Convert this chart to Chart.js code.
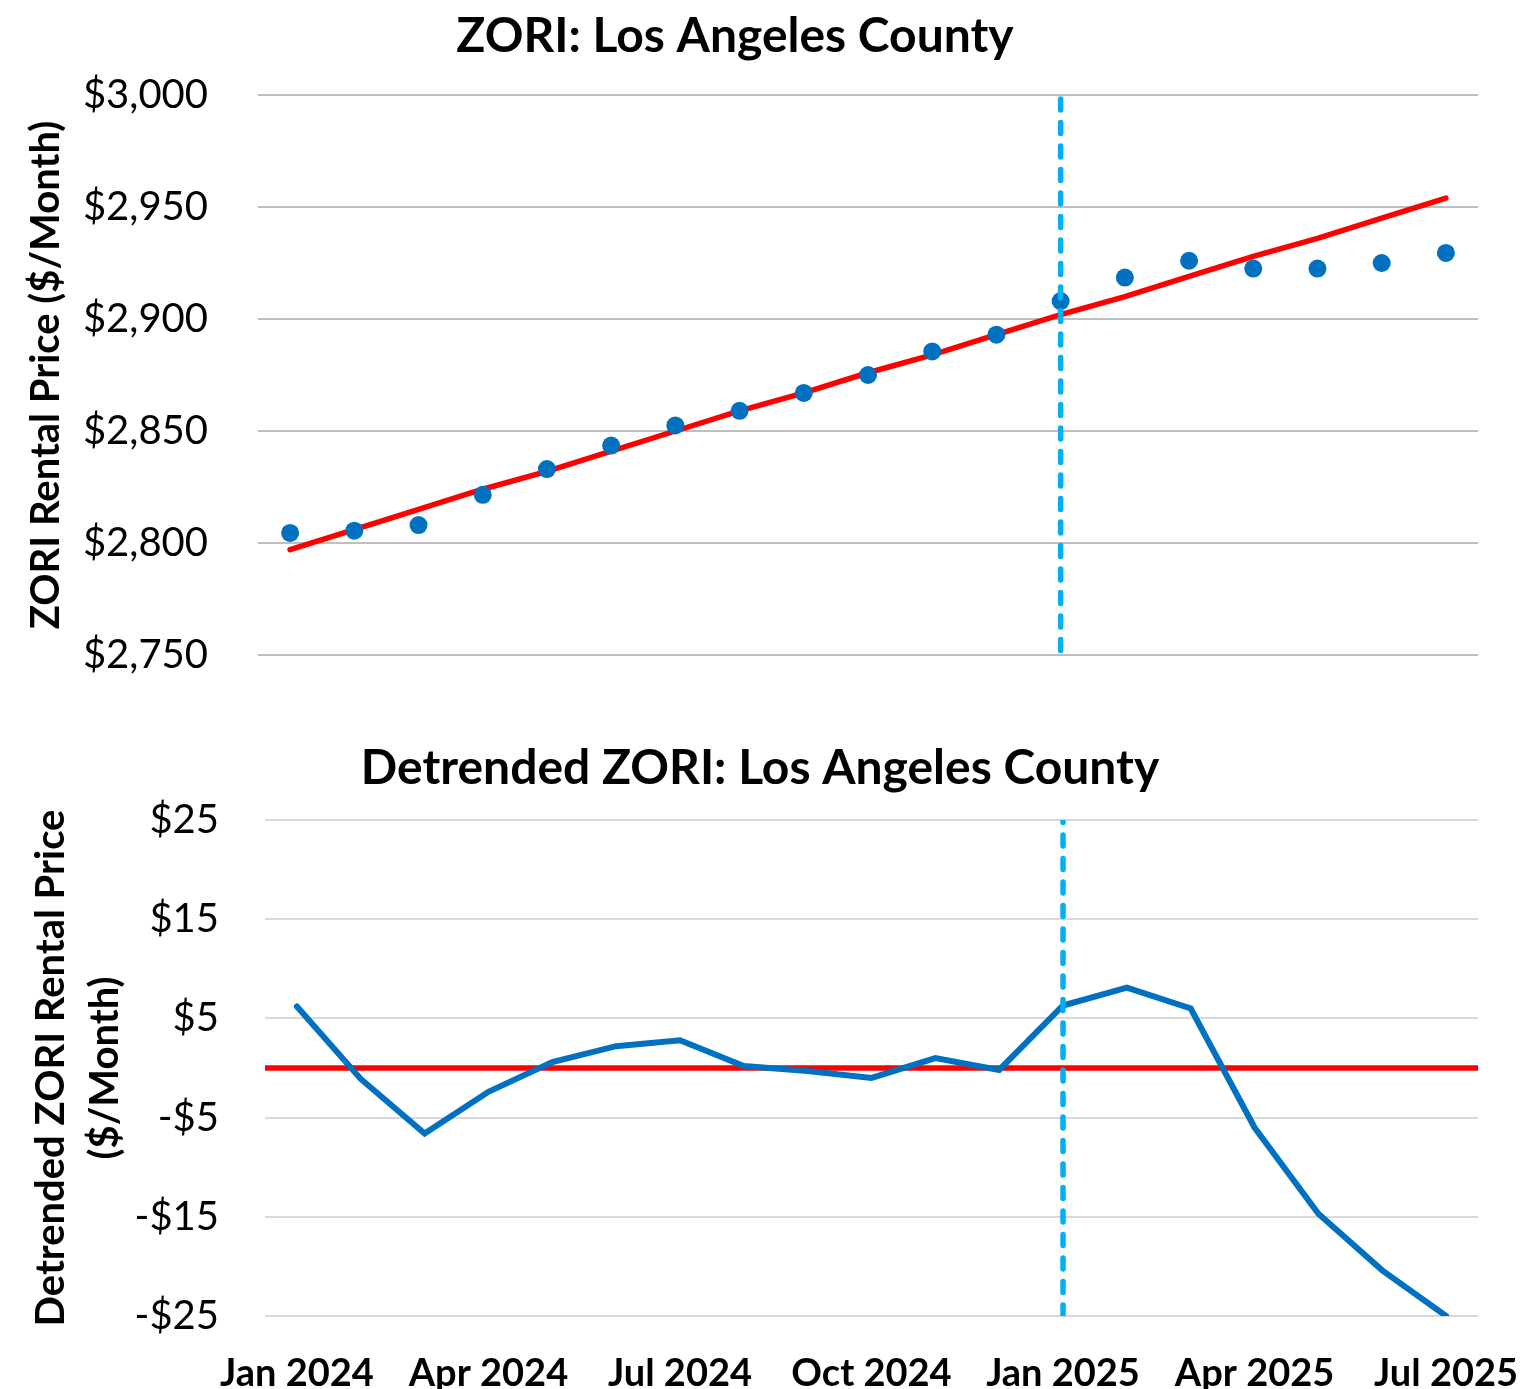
<!DOCTYPE html>
<html>
<head>
<meta charset="utf-8">
<script src="https://cdn.jsdelivr.net/npm/chart.js@4.4.1/dist/chart.umd.min.js"></script>
<style>
  html, body { margin: 0; padding: 0; background: #fff; overflow: hidden; }
  #wrap { position: relative; width: 1537px; height: 1389px; overflow: hidden; }
  canvas { position: absolute; }
</style>
</head>
<body>
<div id="wrap">
  <canvas id="zoriChart" width="1545" height="700" style="left:-8px; top:0px;"></canvas>
  <canvas id="detrendChart" width="1537" height="689" style="left:0px; top:700px;"></canvas>
</div>
<script>
// months shown on the x axis
const months = ['Jan 2024', 'Feb 2024', 'Mar 2024', 'Apr 2024', 'May 2024', 'Jun 2024',
  'Jul 2024', 'Aug 2024', 'Sep 2024', 'Oct 2024', 'Nov 2024', 'Dec 2024',
  'Jan 2025', 'Feb 2025', 'Mar 2025', 'Apr 2025', 'May 2025', 'Jun 2025', 'Jul 2025'];

// ZORI rental price ($/month)
const zoriValues = [2804.5, 2805.5, 2808, 2821.5, 2833, 2843.5, 2852.5, 2859, 2867, 2875,
  2885.5, 2893, 2908, 2918.5, 2926, 2922.5, 2922.5, 2925, 2929.5];

// red trend line
const trendValues = [2797, 2806, 2815, 2824, 2832, 2841, 2850, 2859, 2867, 2876,
  2884, 2893, 2902, 2910, 2919, 2928, 2936, 2945, 2954];

// detrended ZORI ($/month)
const detrendedValues = [6.2, -1.1, -6.6, -2.4, 0.6, 2.2, 2.8, 0.2, -0.3, -1.0,
  1.0, -0.2, 6.3, 8.1, 6.0, -6.0, -14.7, -20.4, -25];

const eventMonth = 'Jan 2025';
const zeroLevel = 0;

const topRange = { min: 2750, max: 3000, step: 50 };
const bottomRange = { min: -25, max: 25, step: 10 };
const xTickEvery = 3;

const FONT = 'Lato, "Open Sans", "DejaVu Sans", sans-serif';
const BLUE = '#0070C0';
const RED = '#FF0000';
const LIGHT_BLUE = '#00B0F0';

function dollars(v) {
  const s = '$' + Math.abs(v).toLocaleString('en-US');
  return v < 0 ? '-' + s : s;
}

Chart.defaults.font.family = FONT;
Chart.defaults.color = '#000';
Chart.defaults.animation = false;

const eventLine = (lo, hi) => ({
  label: 'event',
  data: [{ x: eventMonth, y: lo }, { x: eventMonth, y: hi }],
  borderColor: LIGHT_BLUE,
  borderWidth: 5.5,
  borderDash: [11, 12.5],
  borderCapStyle: 'round',
  pointRadius: 0,
  fill: false
});

// top chart: ZORI points + trend
new Chart(document.getElementById('zoriChart'), {
  type: 'line',
  data: {
    labels: months,
    datasets: [
      eventLine(topRange.min + 2, topRange.max),
      {
        label: 'ZORI',
        data: zoriValues,
        showLine: false,
        pointRadius: 9,
        pointBackgroundColor: BLUE,
        pointBorderWidth: 0
      },
      {
        label: 'Trend',
        data: trendValues,
        borderColor: RED,
        borderWidth: 5.5,
        borderCapStyle: 'round',
        pointRadius: 0,
        fill: false
      }
    ]
  },
  options: {
    responsive: false,
    layout: { autoPadding: false, padding: { left: 0, right: 59, top: 0, bottom: 45 } },
    plugins: {
      legend: { display: false },
      tooltip: { enabled: false },
      title: {
        display: true,
        text: 'ZORI: Los Angeles County',
        font: { size: 48, weight: 'bold' },
        padding: { top: 8, bottom: 29.4 }
      }
    },
    scales: {
      x: { offset: true, display: false },
      y: {
        min: topRange.min,
        max: topRange.max,
        border: { display: false },
        grid: { color: '#BFBFBF', lineWidth: 2, drawTicks: false },
        ticks: {
          stepSize: topRange.step,
          padding: 50,
          font: { size: 40 },
          callback: v => dollars(v)
        },
        title: {
          display: true,
          text: 'ZORI Rental Price ($/Month)',
          font: { size: 40, weight: 'bold' },
          padding: { top: 30, bottom: 0 }
        },
        afterFit: s => { s.width = 266; s.paddingTop = 0; s.paddingBottom = 0; }
      }
    }
  }
});

// bottom chart: detrended ZORI
new Chart(document.getElementById('detrendChart'), {
  type: 'line',
  data: {
    labels: months,
    datasets: [
      eventLine(bottomRange.min, bottomRange.max),
      {
        label: 'Detrended',
        data: detrendedValues,
        borderColor: BLUE,
        borderWidth: 6,
        borderCapStyle: 'round',
        pointRadius: 0,
        fill: false
      },
      {
        label: 'Zero',
        xAxisID: 'xFull',
        data: [{ x: 0, y: zeroLevel }, { x: 1, y: zeroLevel }],
        borderColor: RED,
        borderWidth: 5.5,
        pointRadius: 0,
        fill: false
      }
    ]
  },
  options: {
    responsive: false,
    layout: { autoPadding: false, padding: { left: 42, right: 59, top: 0, bottom: 0 } },
    plugins: {
      legend: { display: false },
      tooltip: { enabled: false },
      title: {
        display: true,
        text: 'Detrended ZORI: Los Angeles County',
        font: { size: 48, weight: 'bold' },
        padding: { top: 40, bottom: 22.4 }
      }
    },
    scales: {
      x: {
        offset: true,
        border: { display: false },
        grid: { display: false, drawTicks: false },
        ticks: {
          autoSkip: false,
          maxRotation: 0,
          padding: 35,
          font: { size: 38, weight: 'bold' },
          callback: function (v, i) { return i % xTickEvery === 0 ? this.getLabelForValue(v) : ''; }
        },
        afterFit: s => { s.height = 73; s.paddingLeft = 0; s.paddingRight = 0; }
      },
      xFull: { type: 'linear', min: 0, max: 1, display: false },
      y: {
        min: bottomRange.min,
        max: bottomRange.max,
        border: { display: false },
        grid: { color: '#D9D9D9', lineWidth: 2, drawTicks: false },
        ticks: {
          stepSize: bottomRange.step,
          padding: 46,
          font: { size: 40 },
          callback: v => dollars(v)
        },
        title: {
          display: true,
          text: ['Detrended ZORI Rental Price', '($/Month)'],
          font: { size: 40, weight: 'bold', lineHeight: 1.35 },
          padding: { top: -18, bottom: 0 }
        },
        afterFit: s => { s.width = 223; s.paddingTop = 0; s.paddingBottom = 0; }
      }
    }
  }
});
</script>
</body>
</html>
